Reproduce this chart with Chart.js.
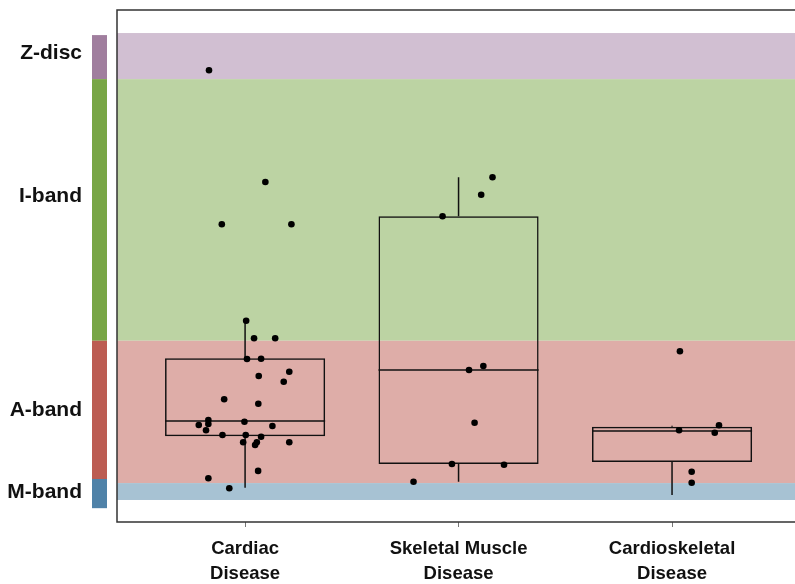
<!DOCTYPE html>
<html>
<head>
<meta charset="utf-8">
<script src="https://cdn.jsdelivr.net/npm/chart.js@4.4.1/dist/chart.umd.min.js"></script>
<style>
  html, body { margin: 0; padding: 0; background: #fff; overflow: hidden; }
  #wrap { width: 795px; height: 584px; }
</style>
</head>
<body>
<div id="wrap"><canvas id="chart" width="795" height="584"></canvas></div>
<script>
// Kategorien
const categoryLines = [['Cardiac', 'Disease'], ['Skeletal Muscle', 'Disease'], ['Cardioskeletal', 'Disease']];
const categoryPos = [1, 2, 3];

// Sarkomer-Bereiche (y-Werte)
const bandNames = ['Z-disc', 'I-band', 'A-band', 'M-band'];
const bandTop = [95.5, 86.5, 35.4, 7.6];
const bandBottom = [86.5, 35.4, 7.6, 4.3];
const stripTop = [95.1, 86.5, 35.4, 8.4];
const stripBottom = [86.5, 35.4, 8.4, 2.7];
const bandLabelY = [91.6, 63.7, 21.9, 5.9];
const bandFill = ['#d1bfd2', '#bcd3a3', '#deada8', '#a7c2d3'];
const stripFill = ['#a07e9e', '#78a645', '#bc5c52', '#4f82a8'];

// Boxplot-Kennwerte
const whiskerLow = [6.7, 7.87, 5.27];
const q1 = [16.74, 11.33, 11.72];
const median = [19.73, 29.69, 17.77];
const q3 = [31.97, 59.71, 18.61];
const whiskerHigh = [39.32, 67.32, 18.81];

// Einzelwerte (x mit Jitter)
const cardiacX = [1.005, 1.042, 1.141, 1.009, 1.075, 1.207, 1.064, 1.181, 0.902, 1.062, 0.828, 0.783, 0.828, 0.817, 0.997,
    1.128, 0.894, 1.003, 1.075, 0.991, 1.055, 1.047, 1.207, 1.061, 0.828, 0.926, 0.831, 1.095, 0.891, 1.217];
const cardiacY = [39.32, 35.88, 35.88, 31.84, 31.89, 29.36, 28.52, 27.40, 23.96, 23.11, 19.92, 18.95, 19.14, 17.91, 19.59,
    18.75, 16.99, 16.99, 16.66, 15.57, 15.57, 15.04, 15.57, 9.98, 8.54, 6.58, 88.22, 66.41, 58.14, 58.14];
const skeletalX = [2.159, 2.106, 1.925, 2.116, 2.049, 2.075, 1.969, 2.213, 1.789];
const skeletalY = [67.32, 63.93, 59.71, 30.47, 29.69, 19.39, 11.33, 11.19, 7.87];
const cardioSkelX = [3.037, 3.220, 3.033, 3.200, 3.092, 3.092];
const cardioSkelY = [33.34, 18.89, 17.91, 17.44, 9.82, 7.68];

const allX = cardiacX.concat(skeletalX, cardioSkelX);
const allY = cardiacY.concat(skeletalY, cardioSkelY);
const points = allX.map((x, i) => ({ x: x, y: allY[i] }));
const boxes = categoryPos.map((x, i) => ({ x: x, y: [q1[i], q3[i]] }));

const bandsPlugin = {
    id: 'bands',
    beforeDatasetsDraw(chart) {
        const { ctx, chartArea, scales } = chart;
        const y = scales.y;
        ctx.save();
        bandNames.forEach((name, i) => {
            const t = y.getPixelForValue(bandTop[i]);
            const b = y.getPixelForValue(bandBottom[i]);
            ctx.fillStyle = bandFill[i];
            ctx.fillRect(chartArea.left, t, chartArea.right - chartArea.left, b - t);
            const st = y.getPixelForValue(stripTop[i]);
            const sb = y.getPixelForValue(stripBottom[i]);
            ctx.fillStyle = stripFill[i];
            ctx.fillRect(92, st, 15, sb - st);
        });
        // Whisker und Median
        const meta = chart.getDatasetMeta(1);
        ctx.strokeStyle = '#111';
        ctx.lineWidth = 1.5;
        meta.data.forEach((bar, i) => {
            const cx = bar.x;
            const half = bar.width / 2;
            ctx.beginPath();
            ctx.moveTo(cx, y.getPixelForValue(q3[i]));
            ctx.lineTo(cx, y.getPixelForValue(whiskerHigh[i]));
            ctx.moveTo(cx, y.getPixelForValue(q1[i]));
            ctx.lineTo(cx, y.getPixelForValue(whiskerLow[i]));
            const m = y.getPixelForValue(median[i]);
            ctx.moveTo(cx - half, m);
            ctx.lineTo(cx + half, m);
            ctx.stroke();
        });
        ctx.restore();
    },
    afterDraw(chart) {
        const { ctx, chartArea } = chart;
        ctx.save();
        ctx.strokeStyle = '#333';
        ctx.lineWidth = 1.5;
        ctx.beginPath();
        ctx.moveTo(chartArea.right, chartArea.top);
        ctx.lineTo(chartArea.left, chartArea.top);
        ctx.lineTo(chartArea.left, chartArea.bottom);
        ctx.lineTo(chartArea.right, chartArea.bottom);
        ctx.stroke();
        ctx.restore();
    }
};

const ctx = document.getElementById('chart').getContext('2d');
new Chart(ctx, {
    type: 'bar',
    data: {
        datasets: [{
            type: 'scatter',
            data: points,
            pointRadius: 3.3,
            pointBackgroundColor: '#000',
            pointBorderWidth: 0
        }, {
            type: 'bar',
            data: boxes,
            backgroundColor: 'rgba(0,0,0,0)',
            borderColor: '#111',
            borderWidth: 1.5,
            barPercentage: 0.75,
            categoryPercentage: 1.0,
            borderSkipped: false
        }]
    },
    options: {
        responsive: false,
        animation: false,
        layout: {
            autoPadding: false,
            padding: { top: 10, left: 0, right: 0, bottom: 0 }
        },
        scales: {
            x: {
                type: 'linear',
                min: 0.4,
                max: 3.576,
                offset: false,
                afterBuildTicks: s => { s.ticks = categoryPos.map(v => ({ value: v })); },
                afterFit: s => { s.height = 62; s.paddingLeft = 0; s.paddingRight = 0; },
                grid: { display: true, offset: false, drawOnChartArea: false, tickLength: 5, color: '#777' },
                border: { display: false },
                ticks: {
                    padding: 9,
                    maxRotation: 0,
                    color: '#111',
                    font: { family: 'Liberation Sans, Arial, sans-serif', size: 18.5, weight: 'bold', lineHeight: 1.35 },
                    callback: v => categoryLines[v - 1]
                }
            },
            y: {
                type: 'linear',
                min: 0,
                max: 100,
                afterBuildTicks: s => { s.ticks = bandLabelY.map(v => ({ value: v })); },
                afterFit: s => { s.width = 117; s.paddingTop = 0; s.paddingBottom = 0; },
                grid: { display: false, drawTicks: false },
                border: { display: false },
                ticks: {
                    padding: 35,
                    color: '#111',
                    font: { family: 'Liberation Sans, Arial, sans-serif', size: 21, weight: 'bold' },
                    callback: (v, i) => bandNames[i]
                }
            }
        },
        plugins: {
            legend: { display: false },
            tooltip: { enabled: false }
        }
    },
    plugins: [bandsPlugin]
});
</script>
</body>
</html>
